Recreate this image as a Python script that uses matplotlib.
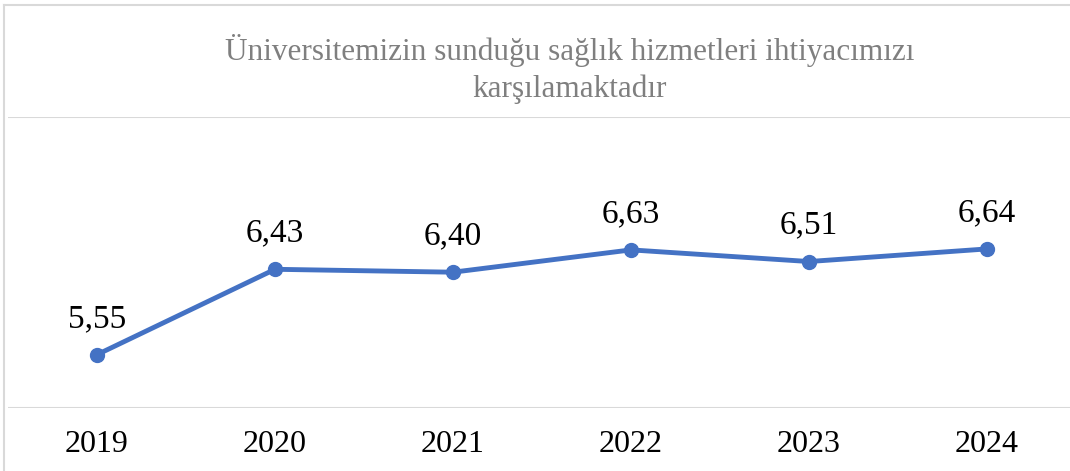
import matplotlib.pyplot as plt
from matplotlib.lines import Line2D

# ======================================================
# Data
# ======================================================

years = ["2019", "2020", "2021", "2022", "2023", "2024"]
scores = [5.55, 6.43, 6.40, 6.63, 6.51, 6.64]
labels = ["5,55", "6,43", "6,40", "6,63", "6,51", "6,64"]

title = "Üniversitemizin sunduğu sağlık hizmetleri ihtiyacımızı\nkarşılamaktadır"

plt.rcParams['font.family'] = ['Liberation Serif', 'DejaVu Serif']

fig = plt.figure(figsize=(10.7, 4.71), dpi=100)
ax = fig.add_axes([8 / 1070, 63 / 471, 1068 / 1070, 291 / 471])

x = list(range(len(years)))
ax.plot(x, scores, color="#4472C4", linewidth=3.5, marker="o", markersize=10,
        solid_capstyle="round")

for xi, yi, lab in zip(x, scores, labels):
    ax.annotate(lab, (xi, yi), xytext=(0, 26), textcoords="offset points",
                ha="center", va="center", fontsize=24, color="black")

ax.set_xlim(-0.5, 5.5)
ax.set_ylim(5, 8)
ax.set_yticks([5, 8])
ax.yaxis.grid(True, color="#d9d9d9", linewidth=1.5)
ax.set_axisbelow(True)
ax.tick_params(left=False, labelleft=False, bottom=False)
ax.set_xticks(x)
ax.set_xticklabels(years, fontsize=23)
ax.tick_params(axis="x", pad=12)
for s in ax.spines.values():
    s.set_visible(False)

fig.text(570 / 1070, 1 - 69 / 471, title, ha="center", va="center",
         fontsize=22.5, color="#7f7f7f", linespacing=1.3)

# chart border (top and left visible)
fig.add_artist(Line2D([4 / 1070, 4 / 1070], [0, 1 - 5 / 471], color="#d9d9d9",
                      linewidth=1.5, transform=fig.transFigure))
fig.add_artist(Line2D([4 / 1070, 1], [1 - 5 / 471, 1 - 5 / 471], color="#d9d9d9",
                      linewidth=1.5, transform=fig.transFigure))

fig.savefig("out.png", dpi=100)
